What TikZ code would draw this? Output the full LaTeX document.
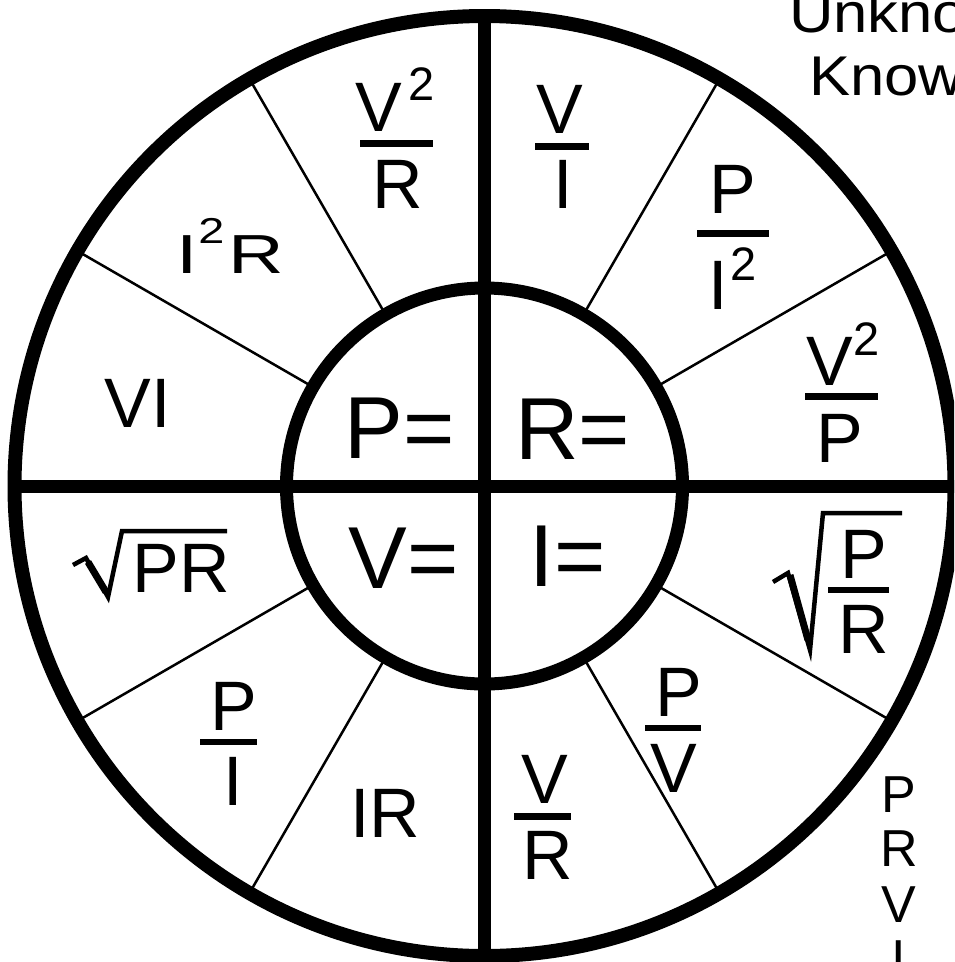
\documentclass[tikz,border=0pt]{standalone}
\usepackage{graphicx}
\usepackage{fontspec}
\setmainfont{Liberation Sans}
\newcommand{\wideby}[2]{\scalebox{#1}[1]{#2}}
\begin{document}
\begin{tikzpicture}[x=1pt,y=-1pt,
  txt/.style={inner sep=0pt,outer sep=0pt,anchor=base},
  big/.style={txt,font=\fontsize{88}{88}\selectfont},
  mid/.style={txt,font=\fontsize{70}{70}\selectfont},
  sml/.style={txt,font=\fontsize{55}{55}\selectfont},
  sup/.style={txt,font=\fontsize{47}{47}\selectfont},
  tiny/.style={txt,font=\fontsize{36}{36}\selectfont},
  note/.style={inner sep=0pt,outer sep=0pt,anchor=base west,font=\fontsize{56}{56}\selectfont},
  side/.style={txt,font=\fontsize{52}{52}\selectfont},
  ring/.style={line width=14pt},
  hub/.style={line width=13pt},
  spoke/.style={line width=2.5pt},
  fbar/.style={line width=6.5pt},
  rad/.style={line width=4.5pt,line join=miter}]
\useasboundingbox (0,0) rectangle (954,962);
\clip (0,0) rectangle (954,962);
\coordinate (O) at (484.5,486);
% spokes
\foreach \a in {30,60,120,150,210,240,300,330}
  \draw[spoke] ([shift={(\a:198)}]O) -- ([shift={(\a:470)}]O);
% circles and cross
\draw[ring] (O) circle[radius=470pt];
\draw[hub] (O) circle[radius=198pt];
\draw[hub] ([xshift=-470pt]O) -- ([xshift=470pt]O);
\draw[hub] ([yshift=-470pt]O) -- ([yshift=470pt]O);
% centre labels
\node[big] (peq) at (399.5,458) {P=};
\node[big] (req) at (572.5,459) {R=};
\node[big] (veq) at (403.5,588) {V=};
\node[big] (ieq) at (567.5,586) {I=};
% P = ...
\node[mid] (vi) at (137.5,427) {VI};
\node[sml] (i2rI) at (187,273) {\wideby{1.4}{I}};
\node[tiny] (i2r2) at (211.5,243) {\wideby{1.3}{2}};
\node[sml] (i2rR) at (256.5,273) {\wideby{1.4}{R}};
\node[mid] (vrV) at (378.5,131) {V};
\node[sup] (vr2) at (421.5,100) {2};
\draw[fbar] (360,143.5) -- (433,143.5);
\node[mid] (vrR) at (397.5,208) {R};
% R = ...
\node[mid] (viV) at (559.5,133) {V};
\draw[fbar] (535,146.5) -- (589,146.5);
\node[mid] (viI) at (563.5,208) {I};
\node[mid] (piP) at (732.5,213) {P};
\draw[fbar] (697,233.5) -- (769,233.5);
\node[mid] (piI) at (718.5,309) {I};
\node[sup] (pi2) at (743.5,280) {2};
\node[mid] (vpV) at (830,385) {V};
\node[sup] (vp2) at (866.5,355) {2};
\draw[fbar] (805,396.5) -- (878,396.5);
\node[mid] (vpP) at (840,462) {P};
% I = ...
\draw[rad] (773,582) -- (788,573) -- (810,650) -- (823,513) -- (902,513);
\draw[line width=7pt] (790,575) -- (808,640);
\node[mid] (prP) at (864,578) {P};
\draw[fbar] (828,590) -- (889,590);
\node[mid] (prR) at (863.5,653) {R};
\node[mid] (pvP) at (678.5,716) {P};
\draw[fbar] (645,728) -- (701,728);
\node[mid] (pvV) at (673.5,792) {V};
\node[mid] (vrrV) at (545,803) {V};
\draw[fbar] (514,816.5) -- (571,816.5);
\node[mid] (vrrR) at (547.5,879) {R};
% V = ...
\node[mid] (ir) at (385.5,837) {IR};
\node[mid] (p1P) at (233.5,730) {P};
\draw[fbar] (200,742) -- (257,742);
\node[mid] (p1I) at (233,805) {I};
\draw[rad] (73,565) -- (86,558) -- (108,597) -- (122,531) -- (227,531);
\draw[line width=7pt] (88,562) -- (106,592);
\node[mid] (sqpr) at (181,592) {PR};
% side notes
\node[note] (unk) at (789,32) {\wideby{1.1}{Unknown}};
\node[note] (kno) at (809,95) {\wideby{1.1}{Known}};
\node[side] (sP) at (899,812) {P};
\node[side] (sR) at (899,866) {R};
\node[side] (sV) at (899,922) {V};
\node[side] (sI) at (899,976) {I};
\end{tikzpicture}
\end{document}
